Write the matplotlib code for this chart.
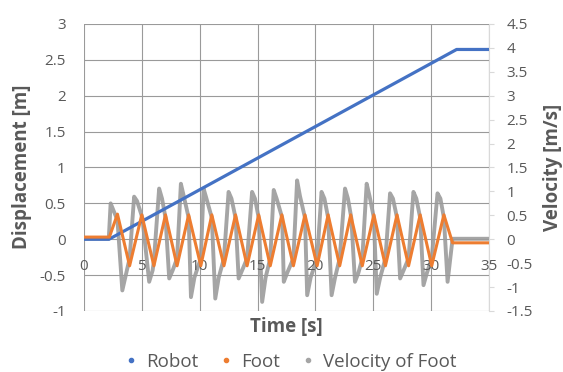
import matplotlib
matplotlib.use("Agg")
import matplotlib.pyplot as plt
from matplotlib.lines import Line2D

plt.rcParams['font.family'] = ['Open Sans', 'DejaVu Sans']

# Robot displacement (m)
robot_t = [0, 2.17, 32.2, 35]
robot_d = [0.0, 0.0, 2.645, 2.645]

# Foot displacement (m): flat start, peaks / troughs, flat end
foot_t = [0, 2.2, 2.9, 3.95, 5.0, 6.05, 7.05, 8.05, 9.05, 10.1, 11.05, 12.1,
          13.1, 14.1, 15.1, 16.1, 17.1, 18.1, 19.1, 20.15, 21.1, 22.1, 23.05,
          24.05, 25.05, 26.05, 27.05, 28.05, 29.05, 30.05, 31.1, 31.85, 35]
foot_d = [0.03, 0.03, 0.35, -0.37, 0.34, -0.37, 0.34, -0.37, 0.34, -0.37,
          0.34, -0.37, 0.34, -0.37, 0.34, -0.37, 0.34, -0.37, 0.34, -0.37,
          0.34, -0.37, 0.34, -0.37, 0.34, -0.37, 0.34, -0.37, 0.34, -0.37,
          0.34, -0.05, -0.05]

# Velocity of foot (m/s), key points
vel_t = [0, 2.15, 2.31, 2.56, 2.9, 3.32, 3.62, 3.95,
         4.34, 4.59, 5.05, 5.64, 5.94, 6.05,
         6.5, 6.75, 7.05, 7.37, 7.67, 8.05,
         8.38, 8.63, 9.05, 9.25, 9.55, 10.1,
         10.34, 10.59, 11.05, 11.35, 11.65, 12.1,
         12.5, 12.75, 13.1, 13.37, 13.67, 14.1,
         14.53, 14.78, 15.1, 15.4, 15.7, 16.1,
         16.4, 16.65, 17.13, 17.27, 17.57, 18.1,
         18.42, 18.67, 19.1, 19.29, 19.59, 20.15,
         20.53, 20.78, 21.1, 21.4, 21.7, 22.1,
         22.56, 22.81, 23.1, 23.42, 23.72, 24.05,
         24.43, 24.68, 25.05, 25.3, 25.6, 26.05,
         26.45, 26.7, 27.05, 27.32, 27.62, 28.05,
         28.47, 28.72, 29.05, 29.34, 29.64, 30.05,
         30.55, 30.8, 31.1, 31.42, 31.85, 35]
vel_v = [0.01, 0.01, 0.75, 0.6, 0.4, -1.07, -0.75, -0.4,
         0.89, 0.8, 0.45, -0.89, -0.65, -0.45,
         1.06, 0.85, 0.45, -0.82, -0.65, -0.4,
         1.16, 0.9, 0.45, -1.21, -0.8, -0.4,
         1.06, 0.85, 0.45, -1.24, -0.8, -0.4,
         0.99, 0.85, 0.45, -0.82, -0.65, -0.4,
         0.99, 0.85, 0.45, -1.31, -0.8, -0.4,
         1.03, 0.85, 0.45, -0.89, -0.7, -0.4,
         1.23, 0.9, 0.45, -1.17, -0.8, -0.4,
         0.99, 0.85, 0.45, -1.17, -0.8, -0.4,
         1.06, 0.85, 0.45, -0.89, -0.7, -0.4,
         1.16, 0.9, 0.45, -1.14, -0.8, -0.4,
         0.96, 0.85, 0.45, -0.82, -0.65, -0.4,
         0.99, 0.85, 0.45, -0.96, -0.7, -0.4,
         0.96, 0.85, 0.45, -0.89, 0.01, 0.01]

x_ticks = [0, 5, 10, 15, 20, 25, 30, 35]
left_ticks = [-1, -0.5, 0, 0.5, 1, 1.5, 2, 2.5, 3]
right_ticks = [-1.5, -1, -0.5, 0, 0.5, 1, 1.5, 2, 2.5, 3, 3.5, 4, 4.5]

blue = '#4472C4'
orange = '#ED7D31'
gray = '#A5A5A5'
txt = '#595959'

fig = plt.figure(figsize=(5.63, 3.72), dpi=100)
ax = fig.add_axes([0.149, 0.164, 0.7196, 0.7715])
ax2 = ax.twinx()
ax.set_zorder(ax2.get_zorder() + 1)
ax.patch.set_visible(False)

ax2.plot(vel_t, vel_v, color=gray, lw=2.8, solid_joinstyle='round')
ax.plot(robot_t, robot_d, color=blue, lw=2.3)
ax.plot(foot_t, foot_d, color=orange, lw=2.2, solid_joinstyle='round')

ax.set_xlim(0, 35)
ax.set_ylim(-1, 3)
ax2.set_ylim(-1.5, 4.5)
ax.set_xticks(x_ticks)
ax.set_xticklabels([str(v) for v in x_ticks])
ax.set_yticks(left_ticks)
ax.set_yticklabels(['%g' % v for v in left_ticks])
ax2.set_yticks(right_ticks)
ax2.set_yticklabels(['%g' % v for v in right_ticks])

ax.grid(True, color='#9a9a9a', lw=0.8)
ax.get_xgridlines()[-1].set_visible(False)

for sp in ['top', 'left', 'bottom', 'right']:
    ax.spines[sp].set_visible(False)
    ax2.spines[sp].set_visible(False)
ax2.spines['right'].set_visible(True)
ax2.spines['right'].set_color('#d9d9d9')
ax.spines['bottom'].set_position(('data', 0))

ax.tick_params(axis='x', length=0, pad=14, labelsize=11, labelcolor=txt)
ax.tick_params(axis='y', length=0, pad=13, labelsize=11, labelcolor=txt)
ax2.tick_params(axis='y', length=3.5, width=0.8, color='#d9d9d9', pad=9,
                labelsize=11, labelcolor=txt)

fig.text(286.5 / 563, 1 - 327 / 372, 'Time [s]', ha='center', va='center',
         fontsize=13.5, fontweight='bold', color=txt)
fig.text(22 / 563, 1 - 167 / 372, 'Displacement [m]', ha='center', va='center',
         rotation=90, fontsize=13.5, fontweight='bold', color=txt)
fig.text(553 / 563, 1 - 167 / 372, 'Velocity [m/s]', ha='center', va='center',
         rotation=90, fontsize=13.5, fontweight='bold', color=txt)

handles = [Line2D([], [], marker='o', ms=3, ls='None', color=c)
           for c in (blue, orange, gray)]
leg = fig.legend(handles, ['Robot', 'Foot', 'Velocity of Foot'], loc='center',
                 bbox_to_anchor=(291 / 563, 1 - 362 / 372), ncol=3,
                 frameon=False, fontsize=13.5, handlelength=0.6,
                 handletextpad=0.5, columnspacing=1.2, borderaxespad=0)
for t in leg.get_texts():
    t.set_color(txt)

fig.savefig('out.png', dpi=100)
